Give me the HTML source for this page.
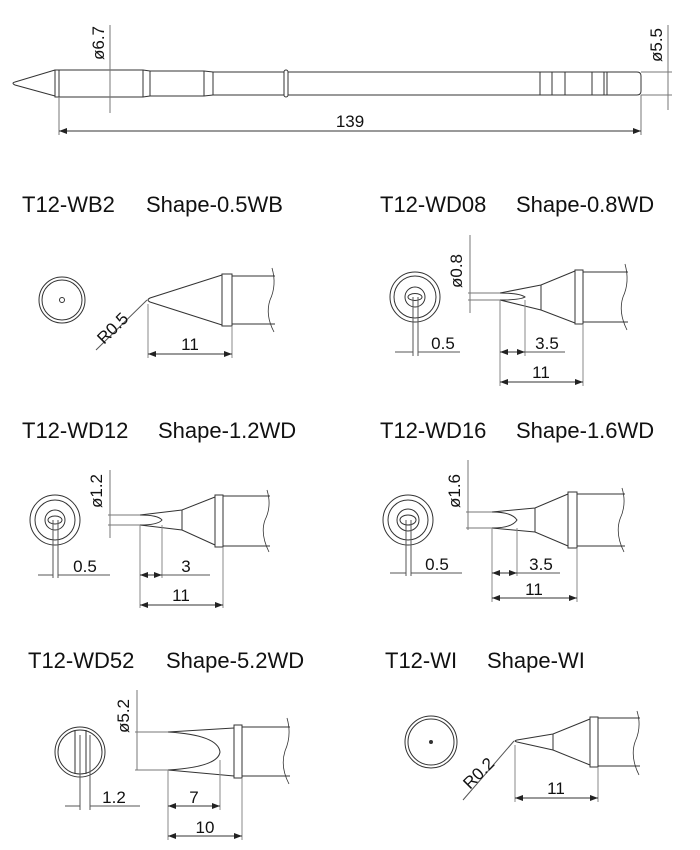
<!DOCTYPE html>
<html><head><meta charset="utf-8"><style>
html,body{margin:0;padding:0;background:#fff}
svg{display:block}
text{font-family:"Liberation Sans",sans-serif;fill:#111}
.t{font-size:22px}
.d{font-size:17px}
</style></head><body>
<svg width="700" height="850" viewBox="0 0 700 850" xmlns="http://www.w3.org/2000/svg">
<defs><marker id="a" markerWidth="8" markerHeight="6" refX="8" refY="3" orient="auto-start-reverse" markerUnits="userSpaceOnUse"><path d="M0,0 L8,3 L0,6z" fill="#222"/></marker></defs>
<g fill="none" stroke="#333" stroke-width="1">
<path d="M55,70 L15,82 Q11,83 15,85 L55,96"/>
<rect x="55" y="70" width="4" height="27"/>
<path d="M59,70 H143 L150,71 H204 L213,72 H637 Q641,72 641,76 V91 Q641,95 637,95 H213 L204,96 H150 L143,97 H59"/>
<line x1="143" y1="70" x2="143" y2="97"/><line x1="150" y1="71" x2="150" y2="96"/>
<line x1="204" y1="71" x2="204" y2="96"/><line x1="213" y1="72" x2="213" y2="95"/>
<rect x="284" y="70" width="4" height="27" rx="2" fill="#fff"/>
<path d="M540,72V95M552,72V95M565,72V95M592,72V95M604,72V95M607,72V95"/>
<line x1="110" y1="25" x2="110" y2="113" stroke="#777"/>
<line x1="59" y1="97" x2="59" y2="135" stroke="#777"/>
<line x1="641" y1="95" x2="641" y2="135" stroke="#777"/>
<line x1="59" y1="131" x2="641" y2="131" marker-start="url(#a)" marker-end="url(#a)"/>
<line x1="668" y1="25" x2="668" y2="110" stroke="#777"/>
<line x1="641" y1="72" x2="672" y2="72" stroke="#777"/><line x1="641" y1="95" x2="672" y2="95" stroke="#777"/>

<circle cx="62" cy="300" r="23"/><circle cx="62" cy="300" r="20"/><circle cx="62" cy="300" r="2.5"/>
<path d="M222,275 L150,298 Q146,300 150,302 L222,325"/>
<rect x="222" y="274" width="10" height="52"/>
<path d="M232,276 H275 M232,324 H275"/>
<path d="M272,268 Q277,285 270,300 Q265,315 274,332" stroke-width=".8"/>
<line x1="147" y1="300" x2="96" y2="350" stroke="#555"/>
<line x1="148" y1="304" x2="148" y2="358" stroke="#888"/><line x1="232" y1="326" x2="232" y2="358" stroke="#888"/>
<line x1="148" y1="354" x2="232" y2="354" marker-start="url(#a)" marker-end="url(#a)"/>

<circle cx="415" cy="297" r="25"/><circle cx="415" cy="297" r="21"/><circle cx="415" cy="297" r="10"/><ellipse cx="415" cy="297" rx="7" ry="3.5"/>
<path d="M413,297V356M418,297V356" stroke="#555"/>
<path d="M395,352H413M418,352H460" stroke="#555"/>
<path d="M575,271 L541,285 L500,293 Q520,293 525,297 Q520,300 500,300 L541,310 L575,323"/>
<line x1="541" y1="285" x2="541" y2="310"/>
<rect x="575" y="270" width="8" height="54"/>
<path d="M583,272 H628 M583,322 H628"/>
<path d="M625,264 Q630,282 623,297 Q618,312 627,330" stroke-width=".8"/>
<line x1="470" y1="235" x2="470" y2="313" stroke="#777"/>
<path d="M468,293H500M468,300H500" stroke="#777"/>
<path d="M500,300V386M525,300V356M583,324V386" stroke="#888"/>
<line x1="500" y1="352" x2="525" y2="352" marker-start="url(#a)" marker-end="url(#a)"/>
<line x1="525" y1="352" x2="565" y2="352" stroke="#555"/>
<line x1="500" y1="382" x2="583" y2="382" marker-start="url(#a)" marker-end="url(#a)"/>

<circle cx="55" cy="520" r="25"/><circle cx="55" cy="520" r="20"/><circle cx="55" cy="520" r="10"/><ellipse cx="55" cy="520" rx="7" ry="4"/>
<path d="M53,520V578M58,520V578" stroke="#555"/>
<path d="M38,575H53M58,575H110" stroke="#555"/>
<path d="M215,497 L182,510 L140,515 Q158,515 162,520 Q158,525 140,525 L182,530 L215,545"/>
<line x1="182" y1="510" x2="182" y2="530"/>
<rect x="215" y="495" width="8" height="52"/>
<path d="M223,496 H270 M223,546 H270"/>
<path d="M267,490 Q272,506 265,520 Q260,534 269,552" stroke-width=".8"/>
<line x1="110" y1="470" x2="110" y2="538" stroke="#777"/>
<path d="M108,515H140M108,525H140" stroke="#777"/>
<path d="M140,525V608M162,525V578M223,547V608" stroke="#888"/>
<line x1="140" y1="575" x2="162" y2="575" marker-start="url(#a)" marker-end="url(#a)"/>
<line x1="162" y1="575" x2="210" y2="575" stroke="#555"/>
<line x1="140" y1="605" x2="223" y2="605" marker-start="url(#a)" marker-end="url(#a)"/>

<circle cx="408" cy="520" r="25"/><circle cx="408" cy="520" r="20"/><circle cx="408" cy="520" r="11"/><ellipse cx="408" cy="520" rx="8" ry="5"/>
<path d="M406,520V576M411,520V576" stroke="#555"/>
<path d="M390,573H406M411,573H462" stroke="#555"/>
<path d="M568,494 L535,508 L492,512 Q512,512 517,520 Q512,528 492,528 L535,532 L568,546"/>
<line x1="535" y1="508" x2="535" y2="532"/>
<rect x="568" y="492" width="9" height="56"/>
<path d="M577,494 H625 M577,546 H625"/>
<path d="M622,488 Q627,504 620,519 Q615,534 624,552" stroke-width=".8"/>
<line x1="468" y1="460" x2="468" y2="530" stroke="#777"/>
<path d="M466,512H492M466,528H492" stroke="#777"/>
<path d="M492,528V602M517,528V576M577,548V602" stroke="#888"/>
<line x1="492" y1="573" x2="517" y2="573" marker-start="url(#a)" marker-end="url(#a)"/>
<line x1="517" y1="573" x2="560" y2="573" stroke="#555"/>
<line x1="492" y1="598" x2="577" y2="598" marker-start="url(#a)" marker-end="url(#a)"/>

<circle cx="80" cy="752" r="25"/><circle cx="80" cy="752" r="22"/>
<path d="M75,730V774M86,730V774" stroke="#333"/>
<path d="M80,735V810M90,735V810" stroke="#555"/>
<path d="M65,806H80M90,806H140" stroke="#555"/>
<path d="M234,728 L168,732 Q218,735 220,752 Q218,767 168,770 L234,776"/>
<rect x="234" y="725" width="8" height="53"/>
<path d="M242,727 H290 M242,776 H290"/>
<path d="M287,718 Q292,735 285,751 Q280,767 289,784" stroke-width=".8"/>
<line x1="137" y1="690" x2="137" y2="770" stroke="#777"/>
<path d="M135,732H168M135,770H168" stroke="#777"/>
<path d="M168,770V840M220,760V810M242,778V840" stroke="#888"/>
<line x1="168" y1="806" x2="220" y2="806" marker-start="url(#a)" marker-end="url(#a)"/>
<line x1="168" y1="836" x2="242" y2="836" marker-start="url(#a)" marker-end="url(#a)"/>

<circle cx="431" cy="742" r="26"/><circle cx="431" cy="742" r="23"/><circle cx="431" cy="742" r="1.5" fill="#333"/>
<path d="M590,719 L553,734 L517,740 Q513,741 517,742 L553,750 L590,765"/>
<line x1="553" y1="734" x2="553" y2="750"/>
<rect x="590" y="717" width="8" height="50"/>
<path d="M598,718 H640 M598,766 H640"/>
<path d="M637,711 Q642,727 635,742 Q630,757 639,775" stroke-width=".8"/>
<line x1="514" y1="741" x2="463" y2="800" stroke="#555"/>
<path d="M515,745V802M598,767V802" stroke="#888"/>
<line x1="515" y1="798" x2="598" y2="798" marker-start="url(#a)" marker-end="url(#a)"/>
</g>

<text class="d" x="350" y="127" text-anchor="middle">139</text>
<text class="d" transform="translate(104,60) rotate(-90)">ø6.7</text>
<text class="d" transform="translate(662,62) rotate(-90)">ø5.5</text>

<text class="t" x="22" y="212">T12-WB2<tspan x="146">Shape-0.5WB</tspan></text>
<text class="t" x="380" y="212">T12-WD08<tspan x="516">Shape-0.8WD</tspan></text>
<text class="t" x="22" y="438">T12-WD12<tspan x="158">Shape-1.2WD</tspan></text>
<text class="t" x="380" y="438">T12-WD16<tspan x="516">Shape-1.6WD</tspan></text>
<text class="t" x="28" y="668">T12-WD52<tspan x="166">Shape-5.2WD</tspan></text>
<text class="t" x="385" y="668">T12-WI<tspan x="487">Shape-WI</tspan></text>

<text class="d" transform="translate(104,345) rotate(-45)">R0.5</text>
<text class="d" x="190" y="350" text-anchor="middle">11</text>
<text class="d" transform="translate(462,288) rotate(-90)">ø0.8</text>
<text class="d" x="443" y="349" text-anchor="middle">0.5</text>
<text class="d" x="547" y="349" text-anchor="middle">3.5</text>
<text class="d" x="541" y="378" text-anchor="middle">11</text>
<text class="d" transform="translate(102,508) rotate(-90)">ø1.2</text>
<text class="d" x="85" y="572" text-anchor="middle">0.5</text>
<text class="d" x="186" y="572" text-anchor="middle">3</text>
<text class="d" x="181" y="601" text-anchor="middle">11</text>
<text class="d" transform="translate(460,508) rotate(-90)">ø1.6</text>
<text class="d" x="437" y="570" text-anchor="middle">0.5</text>
<text class="d" x="541" y="570" text-anchor="middle">3.5</text>
<text class="d" x="534" y="595" text-anchor="middle">11</text>
<text class="d" transform="translate(129,733) rotate(-90)">ø5.2</text>
<text class="d" x="114" y="803" text-anchor="middle">1.2</text>
<text class="d" x="194" y="803" text-anchor="middle">7</text>
<text class="d" x="205" y="833" text-anchor="middle">10</text>
<text class="d" transform="translate(470,790) rotate(-45)">R0.2</text>
<text class="d" x="556" y="794" text-anchor="middle">11</text>
</svg>
</body></html>
